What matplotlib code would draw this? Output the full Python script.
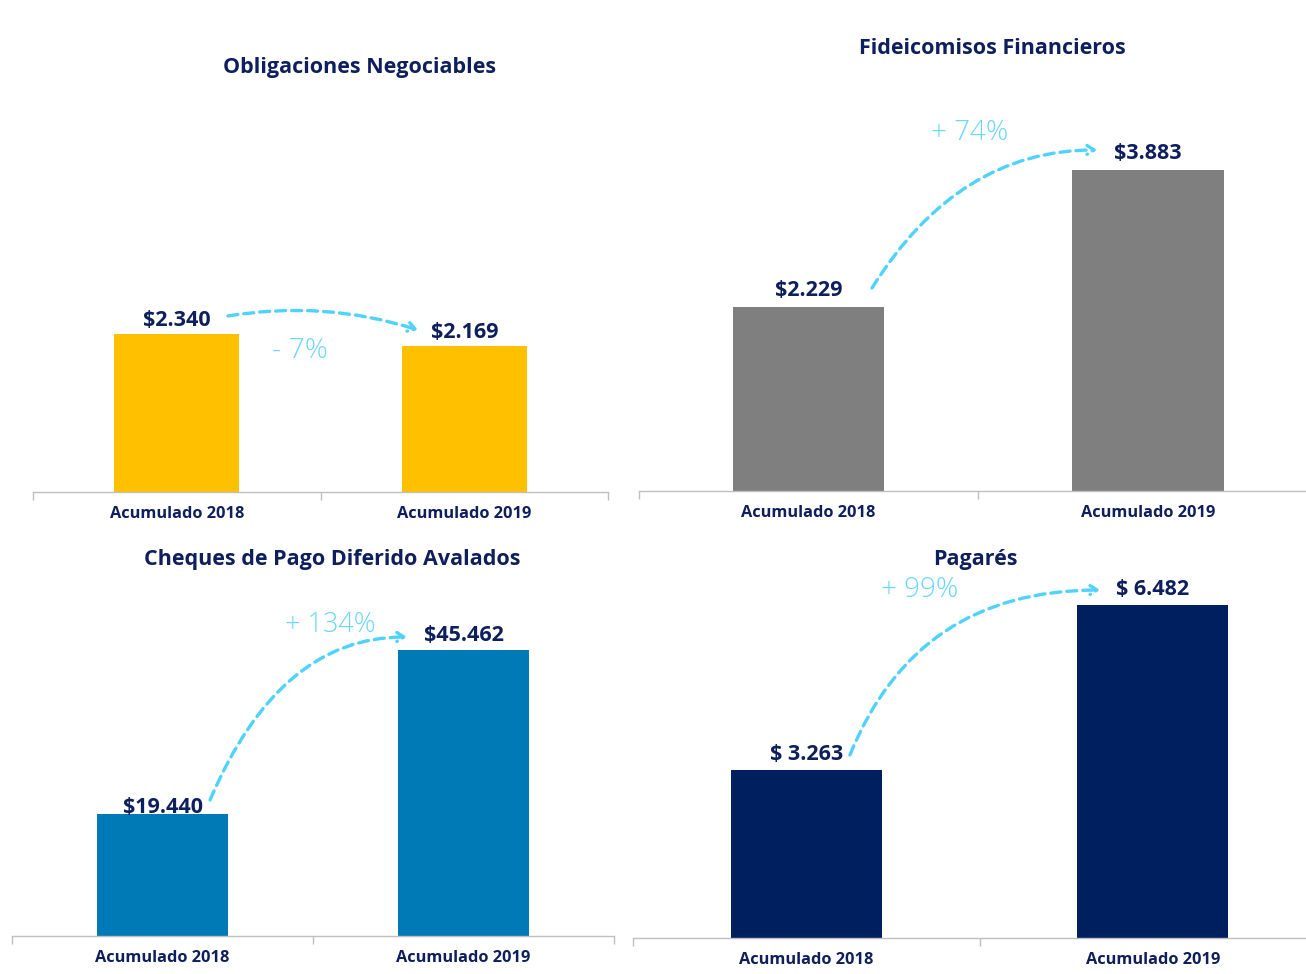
import matplotlib
matplotlib.use("Agg")
import matplotlib.pyplot as plt

# Datos (millones de $)
categorias = ["Acumulado 2018", "Acumulado 2019"]
titulos = ["Obligaciones Negociables", "Fideicomisos Financieros",
           "Cheques de Pago Diferido Avalados", "Pagarés"]
valores_on = [2340, 2169]
valores_ff = [2229, 3883]
valores_cpd = [19440, 45462]
valores_pag = [3263, 6482]
etiquetas_on = ["$2.340", "$2.169"]
etiquetas_ff = ["$2.229", "$3.883"]
etiquetas_cpd = ["$19.440", "$45.462"]
etiquetas_pag = ["$ 3.263", "$ 6.482"]
variaciones = ["- 7%", "+ 74%", "+ 134%", "+ 99%"]

NAVY = "#0d1f5c"
CELESTE = "#4fd2fb"
CELESTE_TXT = "#6cd6f8"
FONT = "Open Sans"

W, H = 1306, 974
fig = plt.figure(figsize=(W / 100, H / 100), dpi=100)


def px_axes(left, top, width, bottom):
    # posicion de los ejes en pixeles de la imagen
    return fig.add_axes([left / W, 1 - bottom / H, width / W, (bottom - top) / H])


def panel(ax, valores, etiquetas, color, ymax, ancho, lab_off):
    x = range(len(valores))
    ax.bar(x, valores, width=ancho, color=color, zorder=2)
    ax.set_xlim(-0.5, 1.5)
    ax.set_ylim(0, ymax)
    for s in ["top", "right", "left"]:
        ax.spines[s].set_visible(False)
    ax.spines["bottom"].set_color("#bfbfbf")
    ax.spines["bottom"].set_linewidth(1.0)
    ax.set_yticks([])
    ax.set_xticks(list(x))
    ax.set_xticklabels(categorias, fontsize=11.8, fontweight="bold", color=NAVY,
                       family=FONT)
    ax.tick_params(axis="x", which="major", length=0, pad=10)
    ax.set_xticks([-0.5, 0.5, 1.5], minor=True)
    ax.tick_params(axis="x", which="minor", length=6, color="#bfbfbf", width=1)
    for i, (v, t) in enumerate(zip(valores, etiquetas)):
        ax.annotate(t, (i, v), xytext=(0, lab_off[i]), textcoords="offset points",
                    ha="center", va="bottom", fontsize=15.5, fontweight="bold",
                    color=NAVY, family=FONT)


def flecha(ax, ini, fin, estilo):
    ax.annotate("", xy=fin, xytext=ini, annotation_clip=False,
                arrowprops=dict(arrowstyle="->,head_length=0.5,head_width=0.32",
                                linestyle=(0, (3, 1.8)), lw=2.4, color=CELESTE,
                                connectionstyle=estilo, shrinkA=0, shrinkB=0))


def variacion(ax, pos, txt, size):
    ax.text(pos[0], pos[1], txt, ha="center", va="center", fontsize=size,
            color=CELESTE_TXT, family=FONT, fontweight="light")


# Obligaciones Negociables
ax1 = px_axes(33, 120, 575, 492)
panel(ax1, valores_on, etiquetas_on, "#ffc000", 5509, 0.435, [2, 2])
flecha(ax1, (0.178, 2607), (0.839, 2399), "arc3,rad=-0.12")
variacion(ax1, (0.429, 2088), variaciones[0], 20.5)

# Fideicomisos Financieros
ax2 = px_axes(638.75, 100, 679, 491)
panel(ax2, valores_ff, etiquetas_ff, "#7f7f7f", 4730, 0.447, [4, 4])
flecha(ax2, (0.187, 2456), (0.85, 4126), "angle3,angleA=58,angleB=0")
variacion(ax2, (0.476, 4332), variaciones[1], 20)

# Cheques de Pago Diferido Avalados
ax3 = px_axes(12, 600, 602, 936)
panel(ax3, valores_cpd, etiquetas_cpd, "#0079b7", 53410, 0.435, [-3, 3])
flecha(ax3, (0.158, 21620), (0.812, 47530), "angle3,angleA=67,angleB=0")
variacion(ax3, (0.556, 49440), variaciones[2], 19.5)

# Pagares
ax4 = px_axes(633, 600, 693, 938)
panel(ax4, valores_pag, etiquetas_pag, "#001f5f", 6581, 0.436, [4, 4])
flecha(ax4, (0.126, 3563), (0.848, 6775), "angle3,angleA=68,angleB=0")
variacion(ax4, (0.328, 6775), variaciones[3], 20)

# Titulos
tit_pos = [(360, 67), (992, 49), (332, 559), (975, 559)]
for t, (xp, yp) in zip(titulos, tit_pos):
    fig.text(xp / W, 1 - yp / H, t, ha="center", va="center", fontsize=15.5,
             fontweight="bold", color=NAVY, family=FONT)

fig.savefig("out.png", dpi=100, facecolor="white")
